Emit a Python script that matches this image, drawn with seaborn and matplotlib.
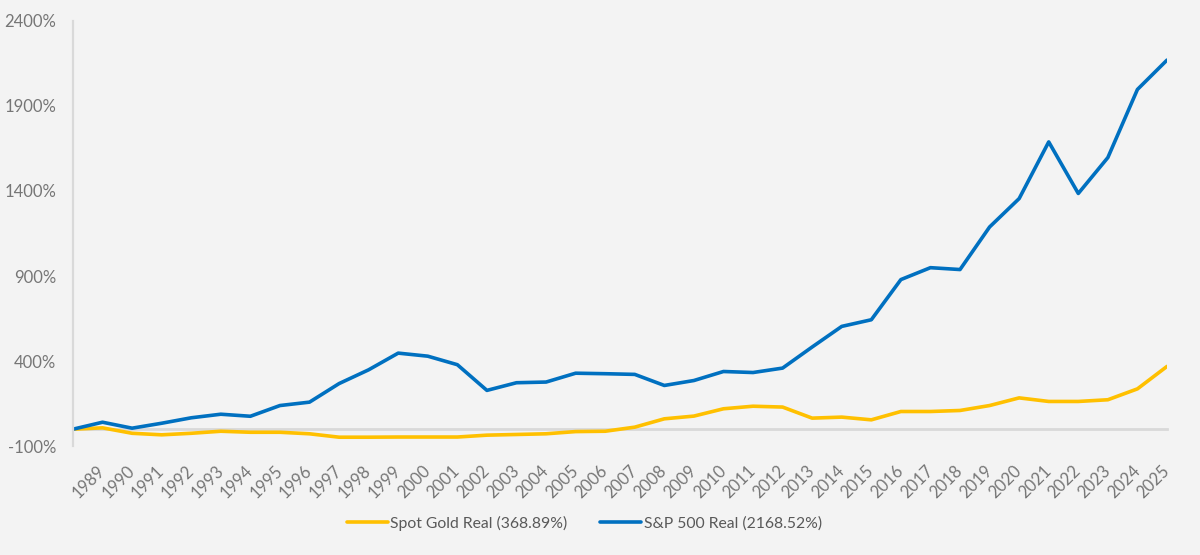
import matplotlib
matplotlib.use("Agg")
import matplotlib.pyplot as plt
import pandas as pd
import seaborn as sns
from matplotlib.ticker import FuncFormatter

# Real cumulative return (%) since 1988
years = list(range(1988, 2026))
gold = [0, 8, -24, -33, -24, -12, -18, -18, -27, -47,
        -47, -46, -46, -46, -35, -31, -27, -14, -12, 12,
        61, 77, 120, 135, 130, 65, 71, 55, 104, 104,
        110, 139, 184, 163, 163, 173, 237, 368.89]
sp500 = [0, 41, 6, 35, 67, 88, 76, 139, 159, 268,
         349, 447, 429, 379, 228, 273, 277, 329, 326, 322,
         257, 286, 339, 333, 359, 483, 604, 643, 879, 949,
         938, 1188, 1355, 1688, 1385, 1596, 1996, 2168.52]
yticks = [-100, 400, 900, 1400, 1900, 2400]

gold_label = f"Spot Gold Real ({gold[-1]:.2f}%)"
sp_label = f"S&P 500 Real ({sp500[-1]:.2f}%)"

df = pd.DataFrame({"year": years, gold_label: gold, sp_label: sp500})
df = df.melt(id_vars="year", var_name="series", value_name="ret")

bg = "#f3f3f3"
grey_line = "#d9d9d9"
grey_text = "#767676"

sns.set_theme(style="white")
plt.rcParams["font.family"] = ["Lato", "DejaVu Sans"]
plt.rcParams["figure.facecolor"] = bg
plt.rcParams["axes.facecolor"] = bg

fig = plt.figure(figsize=(12, 5.55), dpi=100)
ax = fig.add_axes([0.0608, 0.196, 0.9117, 0.7667])

sns.lineplot(
    data=df, x="year", y="ret", hue="series",
    palette={gold_label: "#FFC000", sp_label: "#0070C0"},
    linewidth=2.6, ax=ax, legend=True,
)

# spines first: moving a spine resets the ticks
for side in ["top", "right"]:
    ax.spines[side].set_visible(False)
ax.spines["left"].set_color(grey_line)
ax.spines["left"].set_linewidth(1.6)
ax.spines["bottom"].set_position(("data", 0))
ax.spines["bottom"].set_color(grey_line)
ax.spines["bottom"].set_linewidth(2)
ax.spines["bottom"].set_zorder(1)

ax.set_xlim(years[0], years[-1])
ax.set_ylim(yticks[0], yticks[-1])
ax.set_yticks(yticks)
ax.yaxis.set_major_formatter(FuncFormatter(lambda v, _: f"{v:.0f}%"))
ax.set_xticks(years[1:])
ax.set_xticklabels([str(y) for y in years[1:]])
ax.set_xlabel("")
ax.set_ylabel("")

ax.tick_params(axis="y", length=4, width=1.5, color=grey_line,
               labelcolor=grey_text, labelsize=12, pad=8)
ax.tick_params(axis="x", length=4, width=1.5, color=grey_line,
               labelcolor=grey_text, labelsize=12, pad=24)
for lbl in ax.get_xticklabels():
    lbl.set_rotation(45)
    lbl.set_ha("right")
    lbl.set_va("center")
    lbl.set_rotation_mode("anchor")

leg = ax.legend(loc="center", bbox_to_anchor=(0.4675, -0.181), ncol=2,
                frameon=False, fontsize=11.3, handlelength=2.6,
                handletextpad=0.15, columnspacing=2.1)
for t in leg.get_texts():
    t.set_color("#595959")

fig.savefig("out.png", dpi=100, facecolor=bg)
